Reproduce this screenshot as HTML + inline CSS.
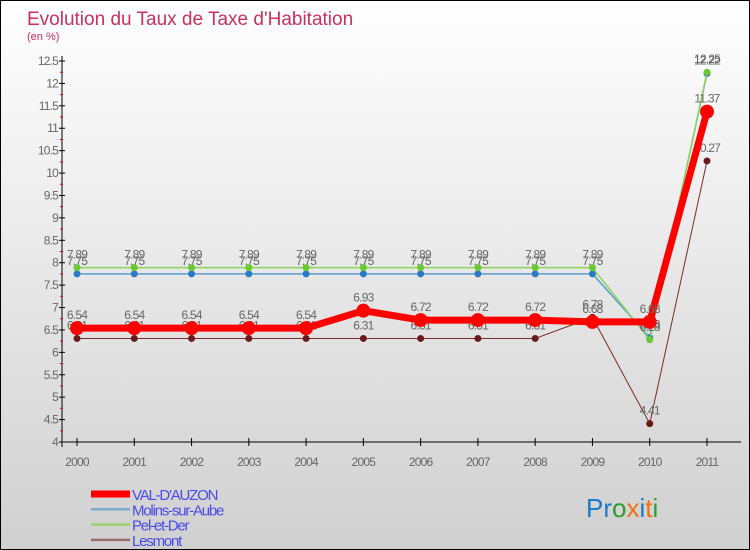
<!DOCTYPE html>
<html><head><meta charset="utf-8"><style>
body{margin:0}
#c{width:748px;height:548px;border:1px solid #000;background:linear-gradient(#fff,#d0d0d0);position:relative;font-family:"Liberation Sans",sans-serif;overflow:hidden}
svg text{font-family:"Liberation Sans",sans-serif}
</style></head><body>
<div id="c">
<svg width="748" height="548">
<text x="26" y="24" font-size="19" fill="#c8305f">Evolution du Taux de Taxe d'Habitation</text>
<text x="26" y="39" font-size="11" fill="#c8305f">(en %)</text>
<g id="axes"></g><g id="series"></g><g id="legend"></g>
<text x="585" y="516" font-size="26"><tspan fill="#1a78c8">Pr</tspan><tspan fill="#2aa02a">o</tspan><tspan fill="#f07010">x</tspan><tspan fill="#1a78c8">i</tspan><tspan fill="#f07010">t</tspan><tspan fill="#2aa02a">i</tspan></text>
</svg></div>
<script>
const years=[2000,2001,2002,2003,2004,2005,2006,2007,2008,2009,2010,2011];
const yTicks=[4,4.5,5,5.5,6,6.5,7,7.5,8,8.5,9,9.5,10,10.5,11,11.5,12,12.5];
const seriesNames=["VAL-D'AUZON","Molins-sur-Aube","Pel-et-Der","Lesmont"];
const valDauzon=[6.54,6.54,6.54,6.54,6.54,6.93,6.72,6.72,6.72,6.68,6.68,11.37];
const molins=[7.75,7.75,7.75,7.75,7.75,7.75,7.75,7.75,7.75,7.75,6.33,12.22];
const pelEtDer=[7.89,7.89,7.89,7.89,7.89,7.89,7.89,7.89,7.89,7.89,6.28,12.25];
const lesmont=[6.31,6.31,6.31,6.31,6.31,6.31,6.31,6.31,6.31,6.78,4.41,10.27];
const NS="http://www.w3.org/2000/svg";
function X(i){return 76+i*(706-76)/11}
function Y(v){return 441-(v-4)*(441-60)/8.5}
function mk(p,t,a){const e=document.createElementNS(NS,t);for(const k in a)e.setAttribute(k,a[k]);p.appendChild(e);return e}
const ax=document.getElementById('axes');
let yl=mk(ax,'line',{x1:61,y1:55,x2:61,y2:446,stroke:'#000'});

let xl=mk(ax,'line',{x1:61,y1:441,x2:740,y2:441,stroke:'#000'});

yTicks.forEach(v=>{const y=Y(v);mk(ax,'line',{x1:58,y1:y,x2:64,y2:y,stroke:'#000'});
 if(v<12.5)mk(ax,'line',{x1:59,y1:Y(v+0.25),x2:62,y2:Y(v+0.25),stroke:'#e00'});
 const t=mk(ax,'text',{x:57,y:y+4,'text-anchor':'end','font-size':12,fill:'#666','letter-spacing':'-0.8'});t.textContent=v;
 });
years.forEach((yr,i)=>{mk(ax,'line',{x1:X(i),y1:437,x2:X(i),y2:445,stroke:'#000'});
 const t=mk(ax,'text',{x:X(i),y:465,'text-anchor':'middle','font-size':12,fill:'#666','letter-spacing':'-0.8'});t.textContent=yr;
 });
const sg=document.getElementById('series');
const defs=[[lesmont,'#7a2a2a','#6a1a1a',1,3.5,'lesmont'],[molins,'#5b9ad0','#2a7ac8',1.5,3.5,'molins-sur-aube'],[pelEtDer,'#8ed45a','#6ac832',1.5,3.5,'pel-et-der'],[valDauzon,'#ff0000','#ff0000',7,7,'val-dauzon']];
defs.forEach(([d,c,pc,w,r,n])=>{
 const g=mk(sg,'g',{});
 const p=mk(g,'polyline',{points:d.map((v,i)=>X(i)+','+Y(v)).join(' '),fill:'none',stroke:c,'stroke-width':w});
 
 d.forEach((v,i)=>{const m=mk(g,'circle',{cx:X(i),cy:Y(v),r:r,fill:pc});
  
  const t=mk(g,'text',{x:X(i),y:Y(v)-9,'text-anchor':'middle','font-size':12,fill:'#666','letter-spacing':'-0.8'});t.textContent=v.toFixed(2);
  });
});
const lg=document.getElementById('legend');
const lc=['#ff0000','#7aaed0','#9ad470','#9a7070'],lw=[7,2.5,2.5,2.5];
seriesNames.forEach((s,i)=>{const y=493+i*15.3;
 const g=mk(lg,'g',{});
 mk(g,'line',{x1:90,y1:y,x2:129,y2:y,stroke:lc[i],'stroke-width':lw[i]});
 const t=mk(g,'text',{x:131,y:y+6,'font-size':15,fill:'#4a4ae8','letter-spacing':'-1.2'});t.textContent=s;});
</script></body></html>
